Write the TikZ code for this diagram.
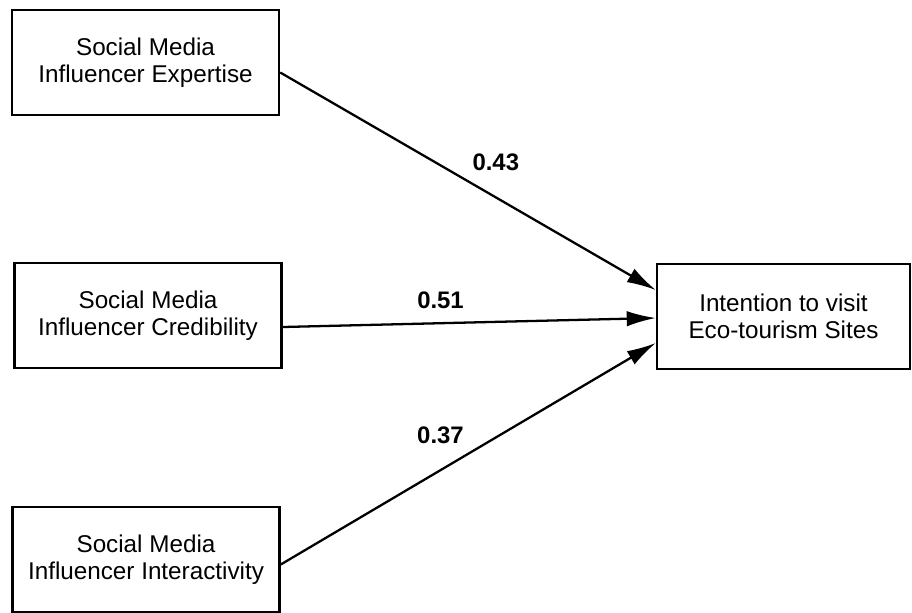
\documentclass[tikz,border=0pt]{standalone}
\usepackage{fontspec}
\setmainfont{Liberation Sans}
\usetikzlibrary{positioning,arrows.meta}

\begin{document}
\begin{tikzpicture}[x=0.2mm, y=-0.2mm,
  font=\fontsize{13.8}{15.5}\selectfont,
  var/.style={draw, line width=1.4pt, minimum width=53.4mm, minimum height=21mm, align=center, inner sep=0pt},
  varr/.style={var, minimum width=50.6mm},
  effect/.style={-{Latex[length=5.8mm, width=3.1mm]}, line width=1.3pt},
  coef/.style={font=\fontsize{13.6}{15}\selectfont\bfseries, inner sep=0pt}]
\useasboundingbox (0,0) rectangle (912,612);

% ---- predictors ----
\node[var] (exp) at (145.5,62.5) {Social Media\\Influencer Expertise};
\node[var] (cred) at (148,315.5) {Social Media\\Influencer Credibility};
\node[var] (inter) at (146,559.5) {Social Media\\Influencer Interactivity};

% ---- outcome ----
\node[varr] (visit) at (783.5,316.5) {Intention to visit\\Eco-tourism Sites};

% ---- paths ----
\draw[effect] ([yshift=-2mm]exp.east) -- node[coef, pos=0.574, yshift=7mm] {0.43} ([yshift=5.3mm]visit.west);
\draw[effect] ([yshift=-2.3mm]cred.east) -- node[coef, pos=0.423, yshift=4.6mm] {0.51} ([yshift=-0.3mm]visit.west);
\draw[effect] ([yshift=-1mm]inter.east) -- node[coef, pos=0.426, yshift=7mm] {0.37} ([yshift=-5.3mm]visit.west);
\end{tikzpicture}
\end{document}
